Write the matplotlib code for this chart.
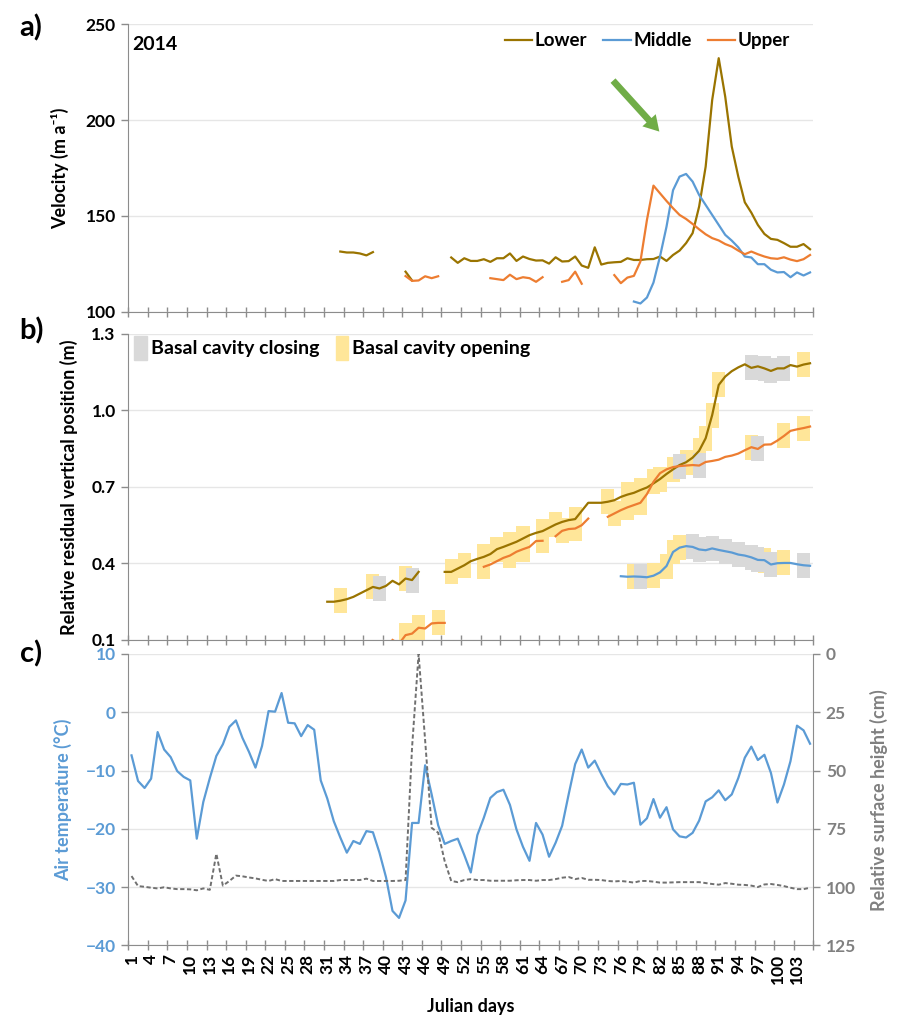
import numpy as np
import matplotlib.pyplot as plt
from matplotlib.lines import Line2D
from matplotlib.patches import Patch

plt.rcParams['font.family'] = ['Lato', 'DejaVu Sans']
plt.rcParams['font.weight'] = 'bold'
plt.rcParams['axes.labelweight'] = 'bold'

N_DAYS = 105
days = np.arange(1, N_DAYS + 1)

# a) surface velocity (m/a), stored as (first day, values) runs
lower_vel = [
    (33, [131.4, 130.9, 130.9, 130.4, 129.4, 131.1]),
    (43, [120.9, 116.3]),
    (50, [128.3, 125.5, 127.9, 126.5, 126.5, 127.4, 126.0, 127.9, 127.9, 130.4,
          126.5, 128.8, 127.5, 126.7, 126.8, 125.1, 128.4, 126.2, 126.4, 128.8,
          124.1, 122.9, 133.6, 124.6, 125.5, 125.8, 126.0, 127.9, 127.0, 127.0,
          127.4, 127.5, 128.8, 126.5, 129.6, 131.9, 135.8, 141.0, 154.9, 175.7,
          210.5, 232.3, 212.2, 186.2, 170.5, 157.1, 151.7, 145.3, 140.6, 138.0,
          137.5, 135.8, 133.9, 133.9, 135.3, 132.6]),
]
middle_vel = [
    (78, [105.3, 104.3, 107.4, 115.2, 128.8, 144.4, 163.4, 170.5, 171.9, 167.9,
          160.9, 155.7, 150.5, 145.3, 140.1, 137.1, 133.6, 128.8, 128.3, 124.8,
          124.8, 121.9, 120.5, 120.7, 118.0, 120.5, 118.9, 120.5]),
]
upper_vel = [
    (43, [118.6, 116.1, 116.3, 118.5, 117.5, 118.5]),
    (56, [117.5, 117.0, 116.5, 119.3, 117.0, 118.0, 117.5, 115.6, 118.0]),
    (67, [115.6, 116.5, 120.9, 114.6]),
    (75, [119.1, 114.9, 117.8, 118.7, 126.2, 147.9, 165.8, 161.8, 157.8, 154.0,
          150.5, 148.4, 145.8, 143.0, 140.4, 138.4, 137.2, 135.3, 134.0, 131.9,
          130.0, 131.4, 130.0, 128.8, 127.9, 127.6, 128.4, 127.2, 126.4, 127.4,
          129.6]),
]

# b) relative residual vertical position (m)
lower_pos = [
    (31, [0.250, 0.250, 0.254, 0.260, 0.269, 0.282, 0.295, 0.308, 0.302, 0.312,
          0.332, 0.318, 0.341, 0.335, 0.367]),
    (49, [0.367, 0.367, 0.380, 0.393, 0.409, 0.418, 0.426, 0.437, 0.456, 0.465,
          0.475, 0.485, 0.498, 0.511, 0.520, 0.527, 0.540, 0.553, 0.563, 0.570,
          0.574, 0.606, 0.638, 0.638, 0.638, 0.642, 0.648, 0.661, 0.670, 0.677,
          0.688, 0.698, 0.714, 0.731, 0.751, 0.769, 0.786, 0.797, 0.815, 0.842,
          0.891, 0.982, 1.100, 1.133, 1.154, 1.169, 1.181, 1.167, 1.173, 1.165,
          1.155, 1.165, 1.165, 1.178, 1.172, 1.180, 1.185]),
]
middle_pos = [
    (76, [0.350, 0.348, 0.349, 0.348, 0.346, 0.352, 0.365, 0.390, 0.445, 0.462,
          0.468, 0.465, 0.455, 0.452, 0.459, 0.453, 0.448, 0.443, 0.435, 0.431,
          0.424, 0.414, 0.413, 0.396, 0.401, 0.402, 0.402, 0.397, 0.393, 0.391]),
]
upper_pos = [
    (41, [0.100, 0.085, 0.119, 0.125, 0.148, 0.145, 0.165, 0.167, 0.167]),
    (55, [0.387, 0.396, 0.409, 0.422, 0.431, 0.446, 0.456, 0.465, 0.488, 0.489]),
    (66, [0.507, 0.528, 0.535, 0.537, 0.550, 0.576]),
    (74, [0.583, 0.596, 0.609, 0.620, 0.629, 0.638, 0.672, 0.720, 0.754, 0.769,
          0.778, 0.782, 0.784, 0.786, 0.784, 0.798, 0.802, 0.807, 0.818, 0.823,
          0.831, 0.844, 0.856, 0.849, 0.866, 0.867, 0.882, 0.900, 0.920, 0.926,
          0.931, 0.937]),
]

# days flagged as basal cavity opening / closing for each site
lower_opening = [33, 38, 43, 50, 52, 55, 57, 59, 61, 64, 66, 69, 74, 77, 79, 82,
                 84, 86, 88, 89, 90, 91, 104]
lower_closing = [39, 44, 96, 98, 99, 101]
middle_opening = [78, 81, 83, 84, 85, 98, 101]
middle_closing = [79, 87, 88, 90, 92, 94, 96, 97, 99, 104]
upper_opening = [43, 45, 48, 55, 59, 61, 64, 67, 69, 75, 77, 79, 81, 96, 101, 104]
upper_closing = [85, 88, 97]
BOX_HALF = 0.049

# c) air temperature (deg C) and relative surface height (cm), days 1-105
air_temp = [-7.4, -11.8, -13.0, -11.4, -3.4, -6.4, -7.7, -10.1, -11.1, -11.7,
            -21.7, -15.4, -11.3, -7.5, -5.5, -2.5, -1.4, -4.4, -6.8, -9.5,
            -5.8, 0.2, 0.1, 3.3, -1.8, -1.9, -4.1, -2.2, -3.0, -11.7,
            -14.8, -18.7, -21.5, -24.1, -22.1, -22.6, -20.4, -20.6, -24.1, -28.3,
            -34.1, -35.3, -32.3, -19.0, -19.0, -9.1, -14.1, -19.4, -22.6, -22.1,
            -21.7, -24.5, -27.5, -21.1, -18.1, -14.7, -13.7, -13.3, -15.9, -20.1,
            -23.1, -25.5, -19.0, -21.0, -24.8, -22.4, -19.5, -14.1, -8.9, -6.4,
            -9.5, -8.3, -10.6, -12.7, -14.1, -12.3, -12.4, -12.1, -19.3, -18.2,
            -14.9, -18.1, -16.3, -20.1, -21.3, -21.5, -20.7, -18.6, -15.3, -14.6,
            -13.4, -15.1, -14.1, -11.3, -7.8, -5.9, -8.2, -7.3, -10.4, -15.5,
            -12.4, -8.4, -2.3, -3.1, -5.4]
surface_height = [95.3, 99.6, 99.9, 100.3, 100.6, 100.1, 100.6, 100.9, 100.9, 101.0,
                  101.4, 100.6, 101.2, 85.7, 99.4, 97.4, 95.1, 95.4, 95.9, 96.3,
                  96.9, 97.4, 96.6, 97.4, 97.4, 97.4, 97.4, 97.4, 97.4, 97.4,
                  97.4, 97.4, 97.0, 97.0, 97.0, 97.0, 96.4, 97.4, 97.4, 97.4,
                  97.4, 97.3, 97.0, 40.0, 0.0, 37.0, 74.6, 76.7, 88.9, 97.4,
                  97.9, 97.0, 96.6, 97.0, 97.0, 97.3, 97.3, 97.3, 97.3, 97.1,
                  97.0, 97.0, 97.3, 97.0, 97.0, 96.6, 96.0, 95.7, 96.6, 96.1,
                  96.9, 96.9, 97.0, 97.4, 97.6, 97.4, 97.7, 98.1, 97.4, 97.4,
                  97.7, 98.1, 98.1, 98.0, 97.9, 97.9, 97.9, 97.9, 98.3, 98.7,
                  99.0, 98.3, 98.6, 99.0, 99.1, 99.4, 100.0, 98.9, 98.7, 99.1,
                  99.6, 100.3, 100.9, 100.9, 100.3]

# green arrow pointing at the onset of the speed-up (day, velocity)
arrow_tail = (74.8, 220.6)
arrow_head = (81.9, 194.0)

LOWER_C = '#9A7400'
MIDDLE_C = '#5B9BD5'
UPPER_C = '#ED7D31'
OPEN_C = '#FFE699'
CLOSE_C = '#D9D9D9'
AXIS_C = '#8C8C8C'
GRID_C = '#E6E6E6'
SURF_C = '#707070'
TICK_FS = 12.5
LABEL_FS = 13


def fill_days(segments):
    out = np.full(N_DAYS, np.nan)
    for first, vals in segments:
        out[first - 1:first - 1 + len(vals)] = vals
    return out


def bold_ticks(ax):
    for lab in ax.get_xticklabels() + ax.get_yticklabels():
        lab.set_fontweight('bold')


def style_axis(ax, show_labels=False):
    ax.set_xlim(0.5, N_DAYS + 0.5)
    ax.set_xticks(np.arange(1, N_DAYS, 3))
    ax.set_xticks(np.arange(0.5, N_DAYS + 1, 3), minor=True)
    ax.tick_params(axis='x', which='major', length=0, pad=6,
                   labelsize=TICK_FS, labelrotation=90, labelbottom=show_labels)
    ax.tick_params(axis='x', which='minor', direction='inout', length=7,
                   width=1, color=AXIS_C)
    ax.tick_params(axis='y', direction='out', length=5, width=1, color=AXIS_C,
                   labelsize=TICK_FS, pad=4)
    for side in ('top', 'right'):
        ax.spines[side].set_visible(False)
    for side in ('left', 'bottom'):
        ax.spines[side].set_color(AXIS_C)
    ax.yaxis.grid(True, color=GRID_C, lw=1)
    ax.set_axisbelow(True)


fig = plt.figure(figsize=(8.97, 10.16), dpi=100)
ax_a = fig.add_axes([0.1430, 0.6932, 0.7637, 0.2829])
ax_b = fig.add_axes([0.1430, 0.3701, 0.7637, 0.3012])
ax_c = fig.add_axes([0.1430, 0.0696, 0.7637, 0.2867])

# ---- a) velocity
style_axis(ax_a)
ax_a.plot(days, fill_days(lower_vel), color=LOWER_C, lw=1.6)
ax_a.plot(days, fill_days(middle_vel), color=MIDDLE_C, lw=1.6)
ax_a.plot(days, fill_days(upper_vel), color=UPPER_C, lw=1.6)
ax_a.set_ylim(100, 250)
ax_a.set_yticks([100, 150, 200, 250])
ax_a.set_ylabel('Velocity (m a⁻¹)', fontsize=LABEL_FS, fontweight='bold',
                labelpad=12)
ax_a.text(0.006, 0.93, '2014', transform=ax_a.transAxes, fontsize=14,
          fontweight='bold', va='center', ha='left')
ax_a.annotate('', xy=arrow_head, xytext=arrow_tail,
              arrowprops=dict(facecolor='#70AD47', edgecolor='none', width=4.8,
                              headwidth=13, headlength=11, shrink=0))
handles_a = [Line2D([], [], color=c, lw=1.6) for c in (LOWER_C, MIDDLE_C, UPPER_C)]
ax_a.legend(handles_a, ['Lower', 'Middle', 'Upper'], loc='upper right',
            bbox_to_anchor=(0.985, 1.018), ncol=3, frameon=False,
            prop={'size': 13.5, 'weight': 'bold'},
            handlelength=1.45, handletextpad=0.15, columnspacing=0.85,
            borderaxespad=0.3)

# ---- b) vertical position with cavity boxes
style_axis(ax_b)
pos_series = [(fill_days(lower_pos), LOWER_C, lower_opening, lower_closing),
              (fill_days(middle_pos), MIDDLE_C, middle_opening, middle_closing),
              (fill_days(upper_pos), UPPER_C, upper_opening, upper_closing)]
for vals, _, opening, _ in pos_series:
    idx = np.array(opening) - 1
    ax_b.bar(days[idx], 2 * BOX_HALF, bottom=vals[idx] - BOX_HALF, width=2.0,
             color=OPEN_C, lw=0, zorder=1)
for vals, _, _, closing in pos_series:
    idx = np.array(closing) - 1
    ax_b.bar(days[idx], 2 * BOX_HALF, bottom=vals[idx] - BOX_HALF, width=2.0,
             color=CLOSE_C, lw=0, zorder=1.5)
for vals, color, _, _ in pos_series:
    ax_b.plot(days, vals, color=color, lw=1.6, zorder=3)
ax_b.set_ylim(0.1, 1.3)
ax_b.set_yticks([0.1, 0.4, 0.7, 1.0, 1.3])
ax_b.yaxis.set_major_formatter(plt.FormatStrFormatter('%.1f'))
ax_b.set_ylabel('Relative residual vertical position (m)', fontsize=LABEL_FS,
                fontweight='bold', labelpad=10)
handles_b = [Patch(color=CLOSE_C), Patch(color=OPEN_C)]
ax_b.legend(handles_b, ['Basal cavity closing', 'Basal cavity opening'],
            loc='upper left', bbox_to_anchor=(0.0, 1.012), ncol=2, frameon=False,
            prop={'size': 14, 'weight': 'bold'}, handlelength=0.65,
            handleheight=1.5, handletextpad=0.2, columnspacing=0.85,
            borderaxespad=0.0, borderpad=0.3)

# ---- c) air temperature and surface height
style_axis(ax_c, show_labels=True)
ax_c.plot(days, air_temp, color=MIDDLE_C, lw=1.6, zorder=3)
ax_c.set_ylim(-40, 10)
ax_c.set_yticks([-40, -30, -20, -10, 0, 10])
ax_c.tick_params(axis='y', labelcolor=MIDDLE_C)
ax_c.set_ylabel('Air temperature (°C)', color=MIDDLE_C, fontsize=LABEL_FS,
                fontweight='bold', labelpad=10)
ax_c.set_xlabel('Julian days', fontsize=LABEL_FS, fontweight='bold',
                labelpad=10)

ax_s = ax_c.twinx()
ax_s.plot(days, surface_height, color=SURF_C, lw=1.4, ls=(0, (2.2, 1.3)),
          zorder=2)
ax_s.set_ylim(125, 0)
ax_s.set_yticks([0, 25, 50, 75, 100, 125])
ax_s.tick_params(axis='y', direction='out', length=5, width=1, color=AXIS_C,
                 labelcolor='#808080', labelsize=TICK_FS, pad=4)
for side in ('top', 'left', 'bottom'):
    ax_s.spines[side].set_visible(False)
ax_s.spines['right'].set_color(AXIS_C)
ax_s.set_ylabel('Relative surface height (cm)', color='#808080',
                fontsize=LABEL_FS, fontweight='bold', labelpad=10)

for ax in (ax_a, ax_b, ax_c, ax_s):
    bold_ticks(ax)

# panel letters
for label, ypix in (('a)', 28), ('b)', 331), ('c)', 654)):
    fig.text(0.022, 1 - ypix / 1016, label, fontsize=21, fontweight='bold',
             va='center', ha='left')

fig.savefig('out.png', dpi=100)
